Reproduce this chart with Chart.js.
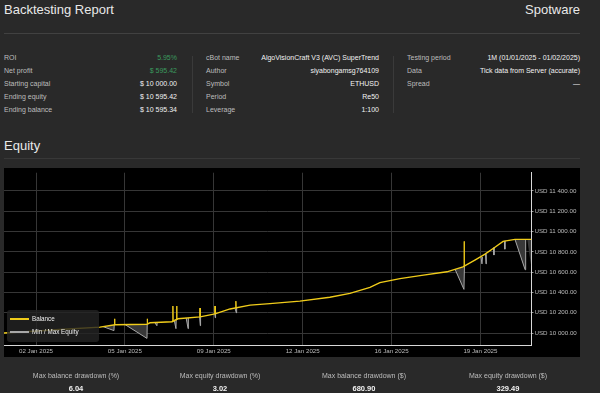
<!DOCTYPE html>
<html>
<head>
<meta charset="utf-8">
<script src="https://cdn.jsdelivr.net/npm/chart.js@4.4.1/dist/chart.umd.min.js"></script>
<style>
  body { margin: 0; width: 600px; height: 393px; overflow: hidden; background: #292929;
         font-family: "Liberation Sans", Arial, sans-serif; color: #e8e8e8; position: relative; }
  .abs { position: absolute; white-space: nowrap; }
  .title { font-size: 13px; top: 2px; line-height: 16px; }
  .hr { position: absolute; left: 4px; width: 576px; height: 1px; background: #414141; }
  .vr { position: absolute; top: 56px; width: 1px; height: 57px; background: #3a3a3a; }
  .col { position: absolute; top: 51px; font-size: 7px; line-height: 13px; }
  .row { display: flex; justify-content: space-between; }
  .row .l { color: #bdbdbd; }
  .row .v { color: #f2f2f2; }
  .row .g { color: #3b9a5e; }
  #box { position: absolute; left: 4px; top: 168px; width: 576px; height: 189px; background: #000; }
  #legend { position: absolute; left: 7px; top: 310px; width: 92px; height: 32px; border-radius: 3px;
            background: rgba(36,36,36,0.8); font-size: 6.3px; color: #eee; }
  #legend .it { position: absolute; left: 3px; width: 86px; height: 8px; line-height: 8px; }
  #legend .sw { position: absolute; left: 0; top: 3px; width: 19px; height: 2px; }
  #legend .tx { position: absolute; left: 22px; top: 0; white-space: nowrap; }
  .bs { position: absolute; top: 370px; width: 144px; text-align: center; }
  .bs .l { font-size: 7px; color: #bdbdbd; line-height: 12px; }
  .bs .v { font-size: 7.5px; color: #f2f2f2; font-weight: bold; line-height: 13px; }
</style>
</head>
<body>
<div class="abs title" style="left:4px;">Backtesting Report</div>
<div class="abs title" style="right:20px;">Spotware</div>
<div class="hr" style="top:33px;"></div>

<div class="col" style="left:4px;width:173px;" id="c1"></div>
<div class="vr" style="left:192px;"></div>
<div class="col" style="left:206px;width:173px;" id="c2"></div>
<div class="vr" style="left:393px;"></div>
<div class="col" style="left:407px;width:173px;" id="c3"></div>

<div class="abs" style="left:4px;top:138px;font-size:13px;line-height:16px;">Equity</div>
<div class="hr" style="top:158px;background:#383838;"></div>

<div id="box"><canvas id="equityChart"></canvas></div>
<div id="legend">
  <div class="it" style="top:5px;"><span class="sw" style="background:#f0cc1a;"></span><span class="tx">Balance</span></div>
  <div class="it" style="top:18px;"><span class="sw" style="background:#a8a8a8;"></span><span class="tx">Min / Max Equity</span></div>
</div>

<div id="bottom"></div>

<script>
// header stats
const infoCol1 = [["ROI", "5.95%", "g"], ["Net profit", "$ 595.42", "g"], ["Starting capital", "$ 10 000.00", "v"],
                  ["Ending equity", "$ 10 595.42", "v"], ["Ending balance", "$ 10 595.34", "v"]];
const infoCol2 = [["cBot name", "AlgoVisionCraft V3 (AVC) SuperTrend", "v"], ["Author", "siyabongamsg764109", "v"],
                  ["Symbol", "ETHUSD", "v"], ["Period", "Re50", "v"], ["Leverage", "1:100", "v"]];
const infoCol3 = [["Testing period", "1M (01/01/2025 - 01/02/2025)", "v"], ["Data", "Tick data from Server (accurate)", "v"],
                  ["Spread", "\u2014", "v"]];
const bottomLabels = ["Max balance drawdown (%)", "Max equity drawdown (%)", "Max balance drawdown ($)", "Max equity drawdown ($)"];
const bottomValues = ["6.04", "3.02", "680.90", "329.49"];

// equity chart data (x = day of January 2025)
const balanceDays = [0.74, 1.76, 2.94, 4.52, 5.11, 6.37, 6.49, 7.35, 7.59, 8.46, 9.05, 9.64, 10.43, 11.21, 12.39,
                     13.57, 14.36, 15.15, 15.54, 16.33, 17.12, 18.18, 18.81, 19.28, 19.68, 20.07, 20.39, 20.86, 21.51];
const balanceValues = [10000, 10015, 10034, 10058, 10082, 10087, 10101, 10111, 10140, 10159, 10188, 10237, 10275, 10290, 10314,
                       10352, 10391, 10449, 10497, 10536, 10565, 10603, 10652, 10719, 10777, 10845, 10903, 10922, 10922];

const minEquityDays = [4.64, 5.07, 5.08, null, 5.50, 6.37, 6.38, null, 6.68, 6.76, 6.77, null, 7.45, 7.51, 7.52, null,
                       7.91, 7.99, 8.00, null, 8.44, 8.47, 8.48, null, 9.04, 9.06, 9.07, null, 9.84, 9.89, 9.90, null,
                       18.50, 18.85, 18.87, null, 19.52, 19.56, 19.58, null, 19.70, 19.72, 19.73, null,
                       20.01, 20.03, 20.04, null, 20.44, 20.46, 20.47, null, 20.86, 21.26, 21.28, null, 21.34, 21.51];
const minEquityValues = [10063, 10024, 10082, null, 10084, 9947, 10095, null, 10101, 10072, 10101, null, 10118, 10043, 10130, null,
                         10150, 10043, 10150, null, 10159, 10072, 10159, null, 10185, 10150, 10188, null, 10240, 10198, 10246, null,
                         10628, 10430, 10652, null, 10748, 10681, 10748, null, 10777, 10681, 10777, null,
                         10840, 10768, 10840, null, 10905, 10826, 10910, null, 10922, 10623, 10922, null, 10922, 10640];

const maxEquityDays = [5.08, 5.09, 5.11, null, 6.375, 6.38, 6.39, null, 7.38, 7.39, 7.40, null, 7.53, 7.54, 7.55, null,
                       8.45, 8.46, 8.465, null, 9.045, 9.05, 9.055, null, 9.86, 9.87, 9.88, null,
                       18.855, 18.86, 18.865, null, 19.565, 19.57, 19.575, null, 19.845, 19.85, 19.855, null,
                       21.265, 21.27, 21.275];
const maxEquityValues = [10082, 10140, 10082, null, 10095, 10140, 10101, null, 10110, 10266, 10115, null, 10130, 10266, 10135, null,
                         10159, 10246, 10159, null, 10186, 10266, 10188, null, 10244, 10314, 10244, null,
                         10650, 10903, 10652, null, 10748, 10845, 10748, null, 10797, 10912, 10797, null,
                         10922, 11279, 10922];

const xTickDays = [2, 5.5, 9, 12.5, 16, 19.5];
const xTickLabels = ["02 Jan 2025", "05 Jan 2025", "09 Jan 2025", "12 Jan 2025", "16 Jan 2025", "19 Jan 2025"];
const yTickValues = [10000, 10200, 10400, 10600, 10800, 11000, 11200, 11400];

function fillCol(id, rows) {
  document.getElementById(id).innerHTML = rows
    .map((r) => `<div class="row"><span class="l">${r[0]}</span><span class="${r[2]}">${r[1]}</span></div>`)
    .join("");
}
fillCol("c1", infoCol1);
fillCol("c2", infoCol2);
fillCol("c3", infoCol3);

document.getElementById("bottom").innerHTML = bottomLabels
  .map((l, i) => `<div class="bs" style="left:${4 + i * 144}px;"><div class="l">${l}</div><div class="v">${bottomValues[i]}</div></div>`)
  .join("");

// null day = gap in the line
const toPoints = (days, values) =>
  days.map((d, i) => (d === null ? { x: NaN, y: null } : { x: d, y: values[i] }));

function usd(v) {
  const th = Math.floor(v / 1000);
  const rest = String(v % 1000).padStart(3, "0");
  return `USD ${th} ${rest}.00`;
}

const yellow = "#f0cc1a";
const tickFont = { family: "'Liberation Sans', Arial, sans-serif", size: 6.2 };

new Chart(document.getElementById("equityChart"), {
  type: "line",
  data: {
    datasets: [
      {
        label: "Balance",
        data: toPoints(balanceDays, balanceValues),
        borderColor: yellow,
        borderWidth: 1.4,
        pointRadius: 0,
        order: 0,
      },
      {
        label: "Min Equity",
        data: toPoints(minEquityDays, minEquityValues),
        borderColor: "#a8a8a8",
        borderWidth: 1,
        pointRadius: 0,
        spanGaps: false,
        fill: { target: 0, below: "#383838", above: "rgba(0,0,0,0)" },
        order: 2,
      },
      {
        label: "Max Equity",
        data: toPoints(maxEquityDays, maxEquityValues),
        borderColor: yellow,
        borderWidth: 1,
        pointRadius: 0,
        spanGaps: false,
        order: 1,
      },
    ],
  },
  options: {
    responsive: true,
    maintainAspectRatio: false,
    animation: false,
    parsing: false,
    layout: { padding: 0 },
    plugins: { legend: { display: false }, tooltip: { enabled: false } },
    scales: {
      x: {
        type: "linear",
        min: 0.74,
        max: 21.51,
        afterBuildTicks: (scale) => { scale.ticks = xTickDays.map((v) => ({ value: v })); },
        afterFit: (scale) => { scale.height = 12; },
        grid: { color: "#363636", drawTicks: false },
        border: { color: "#d8d8d8" },
        ticks: {
          color: "#bbbbbb",
          font: tickFont,
          padding: 3,
          maxRotation: 0,
          autoSkip: false,
          callback: (v) => xTickLabels[xTickDays.indexOf(v)],
        },
      },
      y: {
        position: "right",
        min: 9882,
        max: 11579,
        afterBuildTicks: (scale) => { scale.ticks = yTickValues.map((v) => ({ value: v })); },
        afterFit: (scale) => { scale.width = 48.5; },
        grid: { color: "#363636", tickLength: 2, tickColor: "#999" },
        border: { color: "#d8d8d8" },
        ticks: { color: "#bbbbbb", font: tickFont, padding: 1, callback: (v) => usd(v) },
      },
    },
  },
});
</script>
</body>
</html>
